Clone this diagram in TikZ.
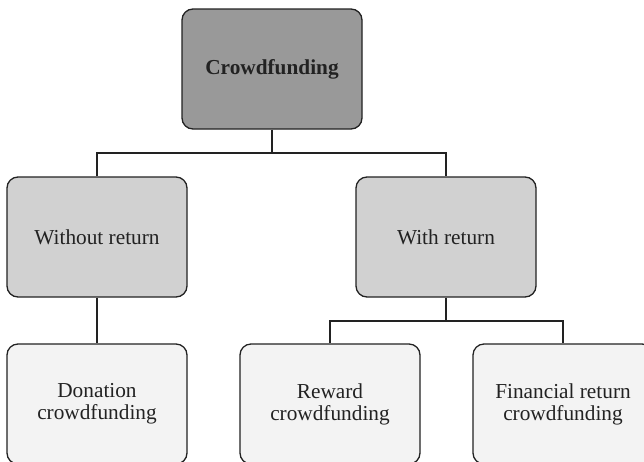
\documentclass[tikz,border=0pt]{standalone}
\usepackage{fontspec}
\setmainfont{Liberation Serif}
\definecolor{topfill}{HTML}{999999}
\definecolor{midfill}{HTML}{D1D1D1}
\definecolor{lowfill}{HTML}{F3F3F3}
\definecolor{edge}{HTML}{222222}
\tikzset{
  box/.style={draw=edge, line width=1.3pt, rounded corners=11pt, minimum width=180pt,
    minimum height=120pt, align=center, text=edge, inner sep=0pt,
    font=\fontsize{21.3pt}{22pt}\selectfont},
  topbox/.style={box, fill=topfill, font=\fontsize{21.3pt}{22pt}\selectfont\bfseries},
  midbox/.style={box, fill=midfill},
  lowbox/.style={box, fill=lowfill},
  link/.style={draw=edge, line width=1.5pt}
}
\begin{document}
\begin{tikzpicture}[x=1pt,y=1pt]
\useasboundingbox (0,0) rectangle (644,-461);
\clip (0,0) rectangle (644,-461);
\fill[white] (0,0) rectangle (644,-461);
\node[topbox] (top) at (272,-69) {Crowdfunding};
\node[midbox] (wo) at (97,-237) {Without return};
\node[midbox] (wr) at (446,-237) {With return};
\node[lowbox] (don) at (97,-404) {Donation\\crowdfunding};
\node[lowbox] (rew) at (330,-404) {Reward\\crowdfunding};
\node[lowbox] (fin) at (563,-404) {Financial return\\crowdfunding};
\coordinate (j1) at (272,-153);
\coordinate (j2) at (446,-321);
\draw[link] (top.south) -- (j1);
\draw[link] (wo.north) |- (j1) -| (wr.north);
\draw[link] (wo.south) -- (don.north);
\draw[link] (wr.south) -- (j2);
\draw[link] (rew.north) |- (j2) -| (fin.north);
\end{tikzpicture}
\end{document}
